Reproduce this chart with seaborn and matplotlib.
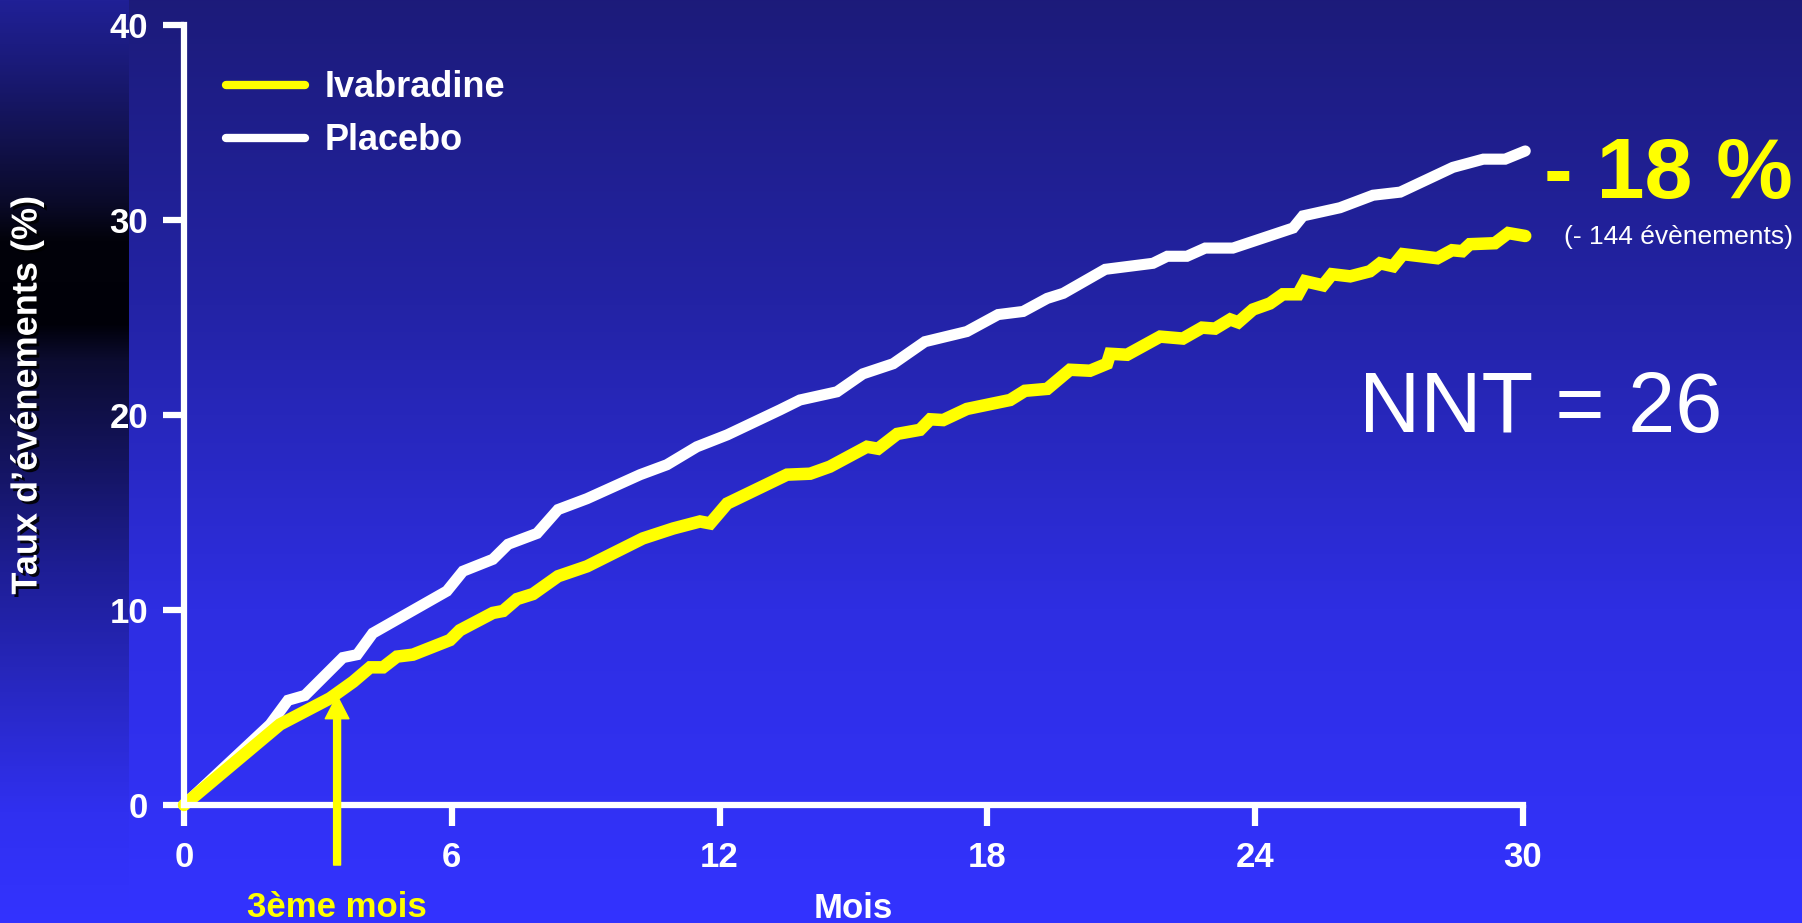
import numpy as np
import pandas as pd
import matplotlib
matplotlib.use("Agg")
import matplotlib.pyplot as plt
import matplotlib.patheffects as pe
import seaborn as sns

# event rate curves (months, % of patients with event)
months_placebo = [0, 1.93, 2.33, 2.71, 3.56, 3.88, 4.23, 5.89, 6.25, 6.92, 7.26, 7.91,
                  8.38, 9.03, 10.22, 10.82, 11.49, 12.17, 13.35, 13.80, 14.63, 15.21,
                  15.89, 16.60, 17.54, 18.24, 18.80, 19.34, 19.70, 20.64, 21.71, 22.03,
                  22.47, 22.88, 23.50, 24.85, 25.07, 25.90, 26.64, 27.25, 28.43, 29.11,
                  29.60, 30.05]
rate_placebo = [0, 4.13, 5.37, 5.62, 7.56, 7.71, 8.81, 10.97, 11.99, 12.60, 13.37, 13.93,
                15.15, 15.71, 16.94, 17.45, 18.37, 18.98, 20.26, 20.77, 21.19, 22.11,
                22.63, 23.76, 24.28, 25.15, 25.31, 25.98, 26.24, 27.47, 27.78, 28.14,
                28.14, 28.56, 28.56, 29.59, 30.21, 30.63, 31.27, 31.43, 32.70, 33.12,
                33.12, 33.54]

months_ivab = [0, 2.15, 3.27, 3.79, 4.17, 4.46, 4.77, 5.13, 5.96, 6.18, 6.92, 7.15, 7.46,
               7.82, 8.38, 9.03, 10.28, 10.96, 11.56, 11.79, 12.17, 13.51, 14.03, 14.47,
               15.30, 15.55, 15.98, 16.49, 16.72, 17.01, 17.54, 18.51, 18.84, 19.34,
               19.85, 20.30, 20.68, 20.75, 21.13, 21.87, 22.38, 22.81, 23.10, 23.44,
               23.62, 23.95, 24.33, 24.62, 24.96, 25.12, 25.52, 25.72, 26.13, 26.57,
               26.80, 27.09, 27.31, 28.08, 28.41, 28.64, 28.81, 29.37, 29.67, 30.05]
rate_ivab = [0, 4.13, 5.47, 6.32, 7.06, 7.06, 7.61, 7.71, 8.46, 8.96, 9.85, 9.95, 10.56,
             10.82, 11.73, 12.24, 13.67, 14.18, 14.54, 14.44, 15.46, 16.94, 16.99, 17.35,
             18.37, 18.27, 19.03, 19.24, 19.78, 19.74, 20.31, 20.77, 21.24, 21.34,
             22.32, 22.27, 22.63, 23.14, 23.09, 24.02, 23.92, 24.48, 24.43, 24.90,
             24.75, 25.41, 25.72, 26.19, 26.19, 26.86, 26.65, 27.22, 27.11, 27.37,
             27.78, 27.63, 28.25, 28.04, 28.45, 28.40, 28.76, 28.81, 29.33, 29.18]

x_ticks = [0, 6, 12, 18, 24, 30]
y_ticks = [0, 10, 20, 30, 40]
arrow_month = 3.43
arrow_rate = 5.6

df = pd.concat([
    pd.DataFrame({"Mois": months_placebo, "Taux": rate_placebo, "Groupe": "Placebo"}),
    pd.DataFrame({"Mois": months_ivab, "Taux": rate_ivab, "Groupe": "Ivabradine"}),
])

sns.set_theme(style="ticks")
plt.rcParams["font.family"] = ["Liberation Sans", "DejaVu Sans"]

W, H = 1802, 923
fig = plt.figure(figsize=(W / 100, H / 100), dpi=100)

# slide background: vertical blue gradient with a darker band on the left edge
def gradient(stops, n):
    pos = np.array([s[0] for s in stops])
    cols = np.array([s[1] for s in stops], dtype=float)
    t = np.linspace(0, 1, n)
    return np.stack([np.interp(t, pos, cols[:, i]) for i in range(3)], axis=1) / 255

main_stops = [(0, (28, 27, 122)), (0.33, (35, 35, 165)), (0.66, (46, 46, 226)), (1, (51, 51, 255))]
strip_stops = [(0, (32, 32, 150)), (0.07, (26, 26, 120)), (0.15, (18, 18, 78)),
               (0.22, (10, 10, 40)), (0.26, (2, 2, 10)), (0.35, (0, 0, 8)),
               (0.39, (12, 12, 48)), (0.50, (20, 20, 95)), (0.62, (30, 30, 150)),
               (0.75, (40, 40, 195)), (0.88, (48, 48, 240)), (1, (51, 51, 255))]
nrows = 400
img = np.repeat(gradient(main_stops, nrows)[:, None, :], W, axis=1)
img[:, :129, :] = gradient(strip_stops, nrows)[:, None, :]
bg = fig.add_axes([0, 0, 1, 1], zorder=-5)
bg.imshow(img, aspect="auto", extent=(0, 1, 0, 1), origin="upper")
bg.axis("off")

ax = fig.add_axes([184 / W, 1 - 805 / H, (1523 - 184) / W, (805 - 25) / H])
ax.set_facecolor("none")

sns.lineplot(data=df[df["Groupe"] == "Placebo"], x="Mois", y="Taux", color="white",
             linewidth=8, sort=False, estimator=None, label="Placebo", ax=ax)
sns.lineplot(data=df[df["Groupe"] == "Ivabradine"], x="Mois", y="Taux", color="#ffff00",
             linewidth=9, sort=False, estimator=None, label="Ivabradine", ax=ax)
for ln in ax.lines:
    ln.set_clip_on(False)
    ln.set_solid_joinstyle("miter")

ax.set_xlim(0, 30)
ax.set_ylim(0, 40)
ax.set_xticks(x_ticks)
ax.set_yticks(y_ticks)
for side in ["top", "right"]:
    ax.spines[side].set_visible(False)
for side in ["left", "bottom"]:
    ax.spines[side].set_color("white")
    ax.spines[side].set_linewidth(4.5)
ax.tick_params(axis="both", colors="white", length=15, width=4.5, labelsize=25)
ax.tick_params(axis="y", pad=11)
ax.tick_params(axis="x", pad=11)
for lab in ax.get_xticklabels() + ax.get_yticklabels():
    lab.set_fontweight("bold")

ax.set_xlabel("Mois", color="white", fontsize=25, fontweight="bold", labelpad=13)
ax.set_ylabel("")
fig.text(0.015, 0.572, "Taux d\u2019\u00e9v\u00e9nements (%)", rotation=90, ha="center",
         va="center", color="white", fontsize=26, fontweight="bold",
         path_effects=[pe.withSimplePatchShadow(offset=(2, -2), shadow_rgbFace="black", alpha=0.9)])

handles, labels = ax.get_legend_handles_labels()
order = [labels.index("Ivabradine"), labels.index("Placebo")]
leg = ax.legend([handles[i] for i in order], [labels[i] for i in order],
                loc="upper left", bbox_to_anchor=(0.031, 0.942), frameon=False,
                handlelength=2.2, handletextpad=0.55, labelspacing=0.5,
                borderpad=0, borderaxespad=0,
                prop={"size": 26, "weight": "bold"})
for t in leg.get_texts():
    t.set_color("white")
for h in leg.get_lines():
    h.set_linewidth(6)

# 3rd month arrow
ax.annotate("", xy=(arrow_month, arrow_rate), xycoords="data",
            xytext=(arrow_month, -0.077), textcoords=ax.get_xaxis_transform(),
            arrowprops=dict(facecolor="#ffff00", edgecolor="#ffff00", width=5,
                            headwidth=17, headlength=16.5, shrink=0),
            annotation_clip=False)
ax.text(arrow_month, -0.132, "3\u00e8me mois", transform=ax.get_xaxis_transform(),
        ha="center", va="center", color="#ffff00", fontsize=25, fontweight="bold")

fig.text(1793 / W, 1 - 198 / H, "- 18 %", ha="right", va="baseline",
         color="#ffff00", fontsize=62, fontweight="bold")
fig.text(1793 / W, 1 - 244 / H, "(- 144 \u00e9v\u00e8nements)", ha="right",
         va="baseline", color="white", fontsize=19)
fig.text(1722 / W, 1 - 432 / H, "NNT = 26", ha="right", va="baseline",
         color="white", fontsize=61)

fig.savefig("out.png", dpi=100)
